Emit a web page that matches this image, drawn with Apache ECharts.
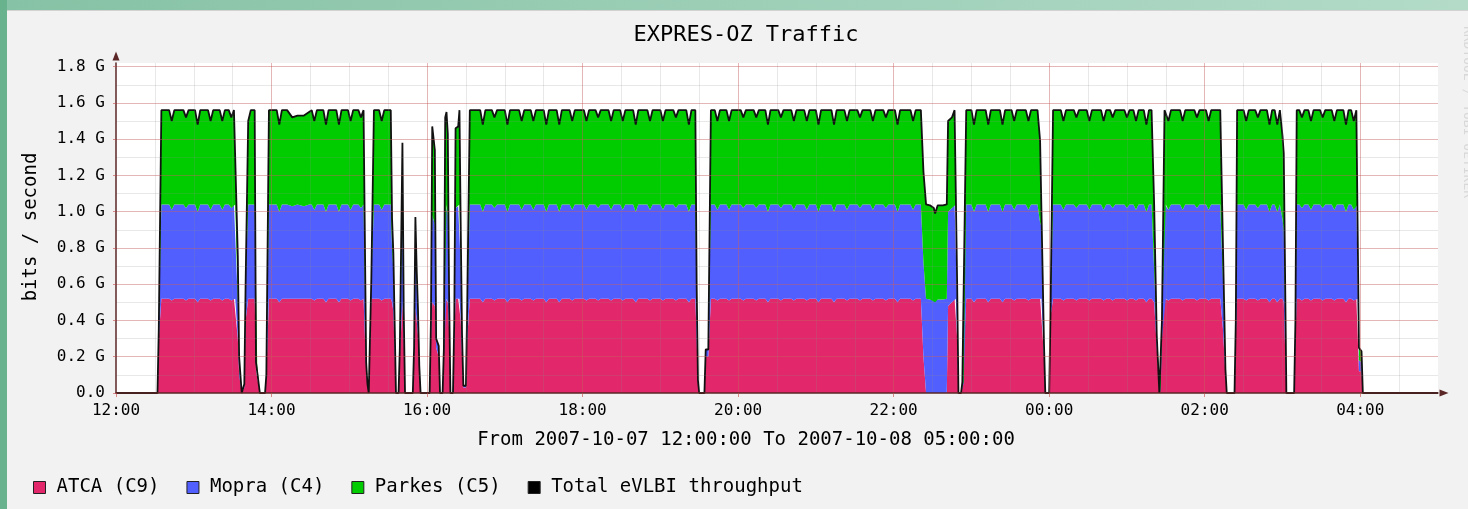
<!DOCTYPE html>
<html>
<head>
<meta charset="utf-8">
<script src="https://cdn.jsdelivr.net/npm/echarts@6/dist/echarts.min.js"></script>
<style>
    html, body { margin: 0; padding: 0; }
    body { width: 1468px; height: 509px; overflow: hidden; position: relative;
           background: linear-gradient(to right, #86c2a5, #b3dbc8); }
    #side { position: absolute; left: 0; top: 0; width: 7px; height: 509px; background: #68b38e; }
    #panel { position: absolute; left: 7px; top: 10px; right: 0; bottom: 0; background: #f2f2f2;
             border-top: 1px solid #d2d2d2; }
    #main { position: absolute; left: 0; top: 0; width: 1468px; height: 509px; }
</style>
</head>
<body>
<div id="side"></div>
<div id="panel"></div>
<div id="main"></div>
<script type="text/javascript">
    // minutes after 2007-10-07 12:00, rates in Gbit/s
    var times = [
        0, 32, 33, 35, 41, 43, 45, 52, 54, 56, 61, 63, 65, 71, 73, 75, 80, 82, 84, 87, 89, 91, 92, 94, 95, 97,
        99, 100, 102, 104, 107, 108, 109, 111, 115, 116, 118,
        124, 126, 128, 132, 136, 140, 145, 149, 151, 153, 155, 160, 162, 164, 170, 172, 174, 179, 181, 183, 187, 189, 191,
        193, 194, 195, 197, 199,
        203, 205, 207, 212, 213, 214, 216, 218, 219, 221, 222, 223, 229, 230, 231, 232, 233, 234, 235, 242,
        243, 244, 246, 247, 249, 250, 252, 253, 254, 255, 256, 257, 258, 260, 261, 262, 264, 265, 266, 267, 268, 270, 271,
        273,
        281, 283, 285, 290, 292, 294, 300, 302, 304, 311, 313, 315, 320, 322, 324, 330, 332, 334,
        340, 342, 344, 350, 352, 354, 361, 363, 365, 370, 372, 374, 380, 382, 384, 389, 391, 393,
        399, 401, 403, 410, 412, 414, 420, 422, 424, 430, 432, 434, 440, 442, 444, 447,
        448, 449, 450, 454, 455, 457,
        459,
        462, 464, 466, 471, 473, 475, 482, 484, 486, 492, 494, 496, 501, 503, 505, 511, 513, 515,
        521, 523, 525, 531, 533, 535, 540, 542, 544, 552, 554, 556, 562, 564, 566, 572, 574, 576,
        582, 584, 586, 592, 594, 596, 601, 603, 605, 613, 615, 617, 621,
        623, 625, 628, 631, 632, 634, 638, 641, 642, 645, 647, 648, 649, 650, 652, 653, 654,
        656, 660, 662, 664, 671, 673, 675, 682, 684, 686, 691, 693, 695, 702, 704, 706, 711,
        713, 714, 716, 717, 720, 721,
        723, 729, 731, 733, 739, 741, 743, 749, 751, 753, 760, 762, 764, 767, 769, 771,
        778, 780, 782, 785, 787, 789, 793, 795, 797, 799, 801, 803, 805, 806, 807,
        809, 810, 812, 814, 821, 823, 825, 832, 834, 836, 841, 843, 845, 852, 854, 856, 857, 863, 864,
        865, 870, 872, 874, 879, 881, 883, 888, 890, 892, 894, 896, 898, 900, 901, 903, 909, 910,
        911, 913, 915, 917, 920, 922, 924, 929, 931, 933, 938, 940, 942, 947, 949, 951, 953, 955, 957, 958,
        959, 961, 962, 1020
    ];
    var atca = [
        0, 0, .30, .52, .52, .51, .52, .52, .51, .52, .52, .50, .52, .52, .51, .52, .52, .51, .52, .52, .51, .52, .52, .30, .10, 0,
        .03, .40, .52, .52, .52, .12, .12, 0, 0, .10, .52,
        .52, .50, .52, .52, .52, .52, .52, .52, .52, .51, .52, .52, .50, .52, .52, .50, .52, .52, .51, .52, .52, .51, .52,
        .12, .05, 0, .52, .52,
        .52, .51, .52, .52, .50, .45, 0, 0, .20, .50, .30, 0, 0, .20, .47, .40, .32, .12, 0, 0,
        .30, .50, .48, .25, .20, 0, 0, .20, .52, .52, .50, .35, 0, 0, .30, .52, .52, .52, .40, .20, .03, .03, .30,
        .52,
        .52, .50, .52, .52, .51, .52, .52, .50, .52, .52, .51, .52, .52, .51, .52, .52, .50, .52,
        .52, .50, .52, .52, .51, .52, .52, .51, .52, .52, .51, .52, .52, .51, .52, .52, .51, .52,
        .52, .50, .52, .52, .51, .52, .52, .51, .52, .52, .51, .52, .52, .50, .52, .52,
        .30, .05, 0, 0, .20, .20,
        .52,
        .52, .51, .52, .52, .51, .52, .52, .51, .52, .52, .51, .52, .52, .50, .52, .52, .51, .52,
        .52, .51, .52, .52, .51, .52, .52, .50, .52, .52, .50, .52, .52, .51, .52, .52, .51, .52,
        .52, .51, .52, .52, .51, .52, .52, .50, .52, .52, .51, .52, .52,
        .20, 0, 0, 0, 0, 0, 0, 0, .48, .50, .52, .52, .30, 0, 0, .05, .05,
        .52, .52, .50, .52, .52, .50, .52, .52, .50, .52, .52, .51, .52, .52, .51, .52, .52,
        .52, .52, .20, 0, 0, .42,
        .52, .52, .51, .52, .52, .51, .52, .52, .51, .52, .52, .51, .52, .52, .51, .52,
        .52, .51, .52, .52, .51, .52, .52, .50, .52, .52, .50, .25, 0, 0, .30,
        .52, .52, .51, .52, .52, .51, .52, .52, .51, .52, .52, .51, .52, .52, .36, .10, 0, 0, .30,
        .52, .52, .51, .52, .52, .51, .52, .52, .50, .52, .52, .50, .52, .52, .50, 0, 0, .30,
        .52, .52, .51, .52, .52, .51, .52, .52, .51, .52, .52, .51, .52, .52, .50, .52, .52, .51, .52, .52,
        .12, .12, 0, 0
    ];
    var mopra = [
        0, 0, .05, .52, .52, .50, .52, .52, .51, .52, .52, .50, .52, .52, .50, .52, .52, .50, .52, .52, .51, .52, .52, .20, .05, 0,
        .02, .20, .52, .52, .52, .03, .03, 0, 0, 0, .52,
        .52, .50, .52, .52, .51, .52, .51, .52, .52, .50, .52, .52, .50, .52, .52, .50, .52, .52, .50, .52, .52, .51, .52,
        .03, 0, 0, .11, .52,
        .52, .50, .52, .52, .30, .22, 0, 0, .05, .50, .10, 0, 0, .05, .40, .20, .10, .03, 0, 0,
        .10, .48, .45, .05, .06, 0, 0, .05, .52, .52, .48, .15, 0, 0, .10, .50, .51, .52, .30, .10, .01, .01, .15,
        .52,
        .52, .50, .52, .52, .51, .52, .52, .50, .52, .52, .50, .52, .52, .50, .52, .52, .50, .52,
        .52, .50, .52, .52, .50, .52, .52, .50, .52, .52, .51, .52, .52, .50, .52, .52, .50, .52,
        .52, .50, .52, .52, .50, .52, .52, .50, .52, .52, .51, .52, .52, .50, .52, .52,
        .20, .02, 0, 0, .04, .04,
        .52,
        .52, .50, .52, .52, .50, .52, .52, .51, .52, .52, .51, .52, .52, .50, .52, .52, .51, .52,
        .52, .50, .52, .52, .50, .52, .52, .50, .52, .52, .50, .52, .52, .50, .52, .52, .51, .52,
        .52, .50, .52, .52, .51, .52, .52, .50, .52, .52, .50, .52, .52,
        .52, .52, .515, .51, .50, .515, .515, .52, .52, .52, .52, .52, .20, 0, 0, .01, .01,
        .52, .52, .50, .52, .52, .50, .52, .52, .50, .52, .52, .50, .52, .52, .50, .52, .52,
        .42, .40, .05, 0, 0, 0,
        .52, .52, .50, .52, .52, .51, .52, .52, .50, .52, .52, .50, .52, .52, .51, .52,
        .52, .51, .52, .52, .50, .52, .52, .50, .52, .52, .18, .05, 0, 0, .10,
        .52, .52, .50, .52, .52, .50, .52, .52, .51, .52, .52, .50, .52, .52, .28, .03, 0, 0, .10,
        .52, .52, .50, .52, .52, .51, .52, .52, .50, .52, .52, .50, .52, .44, .40, 0, 0, .10,
        .52, .52, .51, .52, .52, .50, .52, .52, .51, .52, .52, .50, .52, .52, .50, .52, .52, .50, .52, .52,
        .06, .05, 0, 0
    ];
    var parkes = [
        0, 0, 0, .52, .52, .49, .52, .52, .50, .52, .52, .48, .52, .52, .49, .52, .52, .49, .52, .52, .50, .52, .52, .25, .05, 0,
        0, 0, .46, .52, .52, .02, .02, 0, 0, 0, .52,
        .52, .48, .52, .52, .49, .49, .50, .51, .52, .49, .52, .52, .48, .52, .52, .48, .52, .52, .49, .52, .52, .50, .52,
        .02, 0, 0, 0, .52,
        .52, .49, .52, .52, .16, .10, 0, 0, 0, .38, .05, 0, 0, 0, .10, .08, .04, 0, 0, 0,
        0, .49, .41, 0, 0, 0, 0, 0, .48, .51, .45, .05, 0, 0, 0, .44, .44, .52, .20, .02, 0, 0, .05,
        .52,
        .52, .48, .52, .52, .50, .52, .52, .48, .52, .52, .49, .52, .52, .49, .52, .52, .48, .52,
        .52, .48, .52, .52, .49, .52, .52, .49, .52, .52, .50, .52, .52, .49, .52, .52, .49, .52,
        .52, .48, .52, .52, .49, .52, .52, .49, .52, .52, .50, .52, .52, .48, .52, .52,
        .10, 0, 0, 0, 0, 0,
        .52,
        .52, .49, .52, .52, .49, .52, .52, .50, .52, .52, .50, .52, .52, .48, .52, .52, .50, .52,
        .52, .49, .52, .52, .49, .52, .52, .48, .52, .52, .48, .52, .52, .49, .52, .52, .50, .52,
        .52, .49, .52, .52, .50, .52, .52, .48, .52, .52, .49, .52, .52,
        .50, .52, .52, .51, .49, .52, .52, .52, .50, .50, .52, .52, .10, 0, 0, 0, 0,
        .52, .52, .48, .52, .52, .48, .52, .52, .48, .52, .52, .49, .52, .52, .49, .52, .52,
        .45, .47, .02, 0, 0, 0,
        .52, .52, .49, .52, .52, .50, .52, .52, .49, .52, .52, .49, .52, .52, .50, .52,
        .52, .50, .52, .52, .49, .52, .52, .48, .52, .52, .36, .02, 0, 0, 0,
        .52, .52, .49, .52, .52, .49, .52, .52, .50, .52, .52, .49, .52, .52, .20, 0, 0, 0, 0,
        .52, .52, .49, .52, .52, .50, .52, .52, .48, .52, .52, .48, .52, .46, .42, 0, 0, 0,
        .52, .52, .50, .52, .52, .49, .52, .52, .50, .52, .52, .49, .52, .52, .48, .52, .52, .49, .52, .52,
        .07, .06, 0, 0
    ];
    var seriesNames = ['ATCA (C9)', 'Mopra (C4)', 'Parkes (C5)', 'Total eVLBI throughput'];
    var seriesColors = ['#e2276a', '#525fff', '#00cc00', '#000000'];

    var FONT = '"DejaVu Sans Mono", monospace';
    var AXIS_COLOR = '#5a2626';
    var MAJOR = 'rgba(222,79,79,0.32)';
    var MINOR = 'rgba(140,140,140,0.2)';
    var T0 = new Date(2007, 9, 7, 12, 0, 0).getTime();
    var MINUTE = 60000;
    var SPAN = 1020; // 12:00 -> 05:00

    function pairs(arr) {
        return times.map(function (t, i) { return [T0 + t * MINUTE, arr[i]]; });
    }
    var total = times.map(function (t, i) {
        return [T0 + t * MINUTE, +(atca[i] + mopra[i] + parkes[i]).toFixed(3)];
    });
    function pad(n) { return (n < 10 ? '0' : '') + n; }
    function hourLabel(v) {
        var d = new Date(T0 + v * MINUTE);
        return pad(d.getHours()) + ':' + pad(d.getMinutes());
    }
    function areaSeries(idx, arr) {
        return {
            name: seriesNames[idx], type: 'line', stack: 'bw', data: pairs(arr),
            symbol: 'none', showSymbol: false, z: 2,
            lineStyle: { width: 0 },
            itemStyle: { color: seriesColors[idx] },
            areaStyle: { color: seriesColors[idx], opacity: 1 }
        };
    }

    var myChart = echarts.init(document.getElementById('main'));
    var option = {
        animation: false,
        grid: { left: 116, right: 30, top: 63, bottom: 116, show: true, backgroundColor: '#ffffff', borderWidth: 0 },
        xAxis: [{
            // time axis carrying the data
            type: 'time', min: T0, max: T0 + SPAN * MINUTE, show: false
        }, {
            // minutes since 12:00: labels and 2-hour grid
            type: 'value', min: 0, max: SPAN, interval: 120, position: 'bottom', z: 5,
            axisLine: { show: true, onZero: false, lineStyle: { color: AXIS_COLOR, width: 1.5 },
                        symbol: ['none', 'triangle'], symbolSize: [7, 9], symbolOffset: [0, 6] },
            axisTick: { show: true, length: 4, lineStyle: { color: 'rgba(200,70,70,0.6)' } },
            axisLabel: { formatter: hourLabel, fontFamily: FONT, fontSize: 16, color: '#000', margin: 10,
                         showMaxLabel: false },
            splitLine: { show: true, showMinLine: false, showMaxLine: false, lineStyle: { color: MAJOR } }
        }, {
            // 30-minute grid
            type: 'value', min: 0, max: SPAN, interval: 30, position: 'top', z: 4,
            axisLine: { show: false }, axisTick: { show: false }, axisLabel: { show: false },
            splitLine: { show: true, showMinLine: false, showMaxLine: false, lineStyle: { color: MINOR } }
        }],
        yAxis: [{
            type: 'value', min: 0, max: 1.82, interval: 0.2, z: 5,
            axisLine: { show: true, onZero: false, lineStyle: { color: AXIS_COLOR, width: 1.5 },
                        symbol: ['none', 'triangle'], symbolSize: [7, 9], symbolOffset: [0, 7] },
            axisTick: { show: true, length: 3, lineStyle: { color: 'rgba(200,70,70,0.6)' } },
            axisLabel: {
                formatter: function (v) { return v === 0 ? '0.0' : v.toFixed(1) + ' G'; },
                fontFamily: FONT, fontSize: 16, color: '#000', margin: 11, showMaxLabel: false
            },
            splitLine: { show: true, showMinLine: false, showMaxLine: false, lineStyle: { color: MAJOR } }
        }, {
            type: 'value', min: 0, max: 1.82, interval: 0.1, position: 'right', z: 4,
            axisLine: { show: false }, axisTick: { show: false }, axisLabel: { show: false },
            splitLine: { show: true, showMinLine: false, showMaxLine: false, lineStyle: { color: MINOR } }
        }],
        legend: {
            left: 33, top: 478, padding: 0, icon: 'rect', itemWidth: 12, itemHeight: 12, itemGap: 27,
            itemStyle: { borderColor: '#222', borderWidth: 1 },
            textStyle: { fontFamily: FONT, fontSize: 19, color: '#000', padding: [0, 0, 0, 6] },
            data: seriesNames
        },
        graphic: [
            { type: 'text', x: 746, y: 35, style: { text: 'EXPRES-OZ Traffic', font: '22px "DejaVu Sans Mono"',
              fill: '#000', align: 'center', verticalAlign: 'middle', textAlign: 'center', textVerticalAlign: 'middle' } },
            { type: 'text', x: 31, y: 227, rotation: Math.PI / 2, style: { text: 'bits / second', font: '19px "DejaVu Sans Mono"',
              fill: '#000', align: 'center', verticalAlign: 'middle', textAlign: 'center', textVerticalAlign: 'middle' } },
            { type: 'text', x: 746, y: 440, style: { text: 'From 2007-10-07 12:00:00 To 2007-10-08 05:00:00',
              font: '19px "DejaVu Sans Mono"', fill: '#000', align: 'center', verticalAlign: 'middle',
              textAlign: 'center', textVerticalAlign: 'middle' } },
            { type: 'text', x: 1467, y: 112, rotation: -Math.PI / 2, style: { text: 'RRDTOOL / TOBI OETIKER',
              font: '13px "DejaVu Sans Mono"', fill: '#d8d8d8', align: 'center', verticalAlign: 'middle',
              textAlign: 'center', textVerticalAlign: 'middle' } }
        ],
        series: [
            areaSeries(0, atca),
            areaSeries(1, mopra),
            areaSeries(2, parkes),
            {
                name: seriesNames[3], type: 'line', data: total, symbol: 'none', showSymbol: false, z: 3,
                lineStyle: { color: '#111', width: 1.8 },
                itemStyle: { color: seriesColors[3] }
            }
        ]
    };
    myChart.setOption(option);
</script>
</body>
</html>
